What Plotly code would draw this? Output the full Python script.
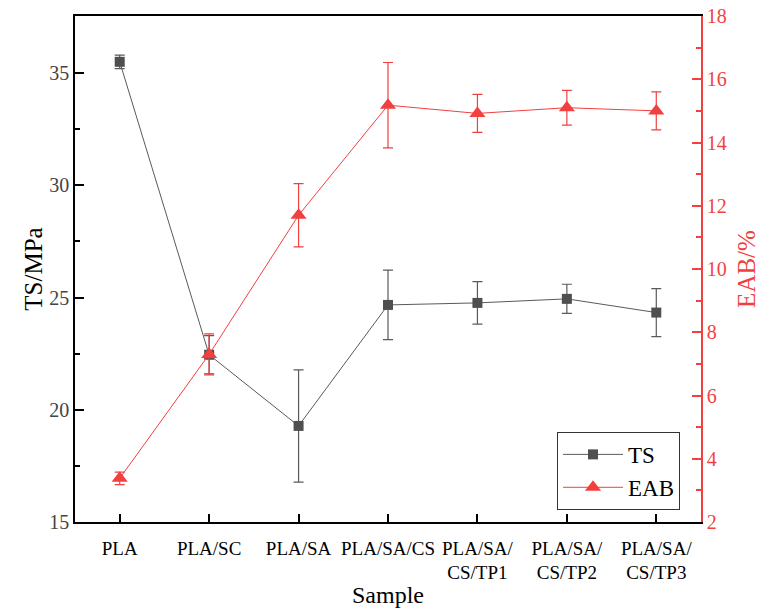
import plotly.graph_objects as go

samples = ["PLA", "PLA/SC", "PLA/SA", "PLA/SA/CS", "PLA/SA/<br>CS/TP1", "PLA/SA/<br>CS/TP2", "PLA/SA/<br>CS/TP3"]
ts = [35.5, 22.45, 19.28, 24.67, 24.76, 24.94, 24.33]
ts_err = [0.3, 0.85, 2.5, 1.55, 0.95, 0.65, 1.07]
eab = [3.38, 7.3, 11.7, 15.18, 14.92, 15.1, 15.0]
eab_err = [0.2, 0.65, 1.0, 1.35, 0.6, 0.55, 0.6]
ts_ticks = [15, 20, 25, 30, 35]
eab_ticks = [2, 4, 6, 8, 10, 12, 14, 16, 18]

xs = list(range(len(samples)))
GRAY = "#4f4f4f"
RED = "#f23f3f"
FONT = "Liberation Serif"

fig = go.Figure()
fig.add_trace(go.Scatter(
    x=xs, y=ts, name="TS", mode="lines+markers",
    line=dict(color="#5a5a5a", width=1),
    marker=dict(symbol="square", size=10, color=GRAY),
    error_y=dict(type="data", array=ts_err, color="#5a5a5a", thickness=1.2, width=5),
))
fig.add_trace(go.Scatter(
    x=xs, y=eab, name="EAB", mode="lines+markers", yaxis="y2",
    line=dict(color=RED, width=1),
    marker=dict(symbol="triangle-up", size=14, color=RED),
    error_y=dict(type="data", array=eab_err, color=RED, thickness=1.2, width=5),
))

fig.update_layout(
    width=763, height=610,
    margin=dict(l=75, r=62, t=16, b=88, autoexpand=False),
    paper_bgcolor="white", plot_bgcolor="white",
    font=dict(family=FONT, color="black"),
    showlegend=True,
    legend=dict(x=0.77, y=0.178, xanchor="left", yanchor="top",
                bordercolor="#333", borderwidth=1, bgcolor="white",
                font=dict(size=23, family=FONT, color="black"),
                tracegroupgap=0, itemwidth=60),
    xaxis=dict(
        range=[-0.5, 6.5], tickmode="array", tickvals=xs, ticktext=samples,
        showline=True, linecolor="black", linewidth=1.5, mirror=True,
        ticks="inside", ticklen=8, tickwidth=2, tickcolor="black",
        ticklabelstandoff=8,
        showgrid=False, zeroline=False, automargin=False,
        tickfont=dict(size=19, family=FONT, color="black"),
        title=dict(text="Sample", font=dict(size=24, family=FONT), standoff=4),
    ),
    yaxis=dict(
        range=[15, 37.54], tickmode="array", tickvals=ts_ticks,
        ticksuffix="  ",
        showline=True, linecolor="black", linewidth=1.5,
        ticks="inside", ticklen=9, tickwidth=2, tickcolor="black",
        minor=dict(ticks="inside", ticklen=5, dtick=2.5, tick0=15, tickcolor="black", tickwidth=2, showgrid=False),
        showgrid=False, zeroline=False, automargin=False,
        tickfont=dict(size=20, family=FONT, color="#444"),
        title=dict(text="TS/MPa", font=dict(size=25, family=FONT, color="black"), standoff=0),
    ),
    yaxis2=dict(
        range=[2, 18], overlaying="y", side="right", anchor="x",
        tickmode="array", tickvals=eab_ticks,
        tickprefix="  ",
        showline=True, linecolor=RED, linewidth=1.5,
        ticks="inside", ticklen=9, tickwidth=2, tickcolor=RED,
        minor=dict(ticks="inside", ticklen=5, dtick=1, tick0=2, tickcolor=RED, tickwidth=2, showgrid=False),
        showgrid=False, zeroline=False, automargin=False,
        tickfont=dict(size=20, family=FONT, color=RED),
        title=dict(text="EAB/%", font=dict(size=25, family=FONT, color=RED), standoff=12),
    ),
)

fig.write_html("out.html")
